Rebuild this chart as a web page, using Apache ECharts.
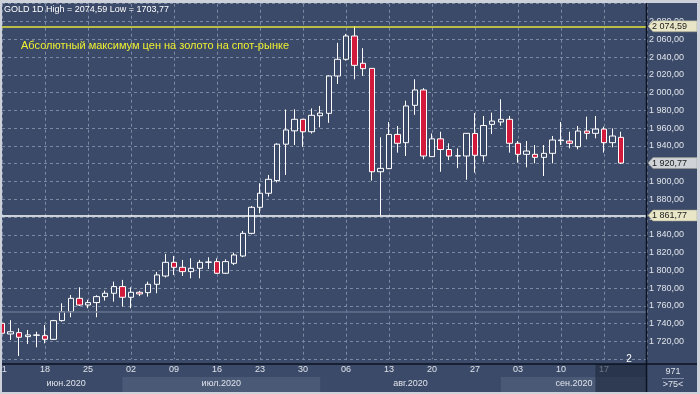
<!DOCTYPE html>
<html><head><meta charset="utf-8">
<script src="https://cdn.jsdelivr.net/npm/echarts@6/dist/echarts.min.js"></script>
<style>html,body{margin:0;padding:0;background:#cdd1d9;}#c{width:700px;height:394px;}</style>
</head><body><div id="c"></div>
<script>
// trading days (category labels), 11 Jun 2020 .. 24 Sep 2020
const days = ['11','12','15','16','17','18','19','22','23','24','25','26','29','30',
 '01','02','03','06','07','08','09','10','13','14','15','16','17','20','21','22','23','24','27','28','29','30','31',
 '03','04','05','06','07','10','11','12','13','14','17','18','19','20','21','24','25','26','27','28','31',
 '01','02','03','04','07','08','09','10','11','14','15','16','17','18','21','22','23','24'];
const opens = [1740.5,1728.5,1730,1725.5,1727,1726.6,1722.5,1743.5,1753.6,1768.6,
 1761.1,1763.8,1770.5,1774.3,1781.8,1769.8,1775.4,1775,1784.4,1793.7,
 1809.1,1803.5,1798.6,1802.4,1809.1,1809.9,1796.8,1808,1816.2,1841.7,
 1871,1886.8,1901,1942,1957,1970,1956,1974,1976.7,2018.7,
 2037.5,2063.7,2033,2027.3,1911,1914.5,1953,1943.7,1985.7,2003,
 1928,1948,1936,1928.7,1928.7,1954,1929,1964.3,1967,1970,
 1943,1930.6,1930.6,1927.2,1931.7,1946,1945.6,1939.2,1956.8,1954.2,
 1959,1943.7,1949.7];
const closes = [1729.3,1731,1724.8,1727.4,1727.4,1722.5,1743.5,1753.6,1768.6,1761.1,
 1763.8,1770.5,1774.3,1781.8,1769.8,1775.4,1773.5,1784.4,1794.9,1809.1,
 1803.5,1798.6,1802.4,1809.1,1809.5,1796.8,1809.9,1817.4,1841.7,1871,
 1886.8,1902.5,1942,1958,1970,1956,1974.5,1977,2018.7,2037.5,
 2063.7,2030.7,2027,1911,1914.8,1953,1943,1985,2003,1928.7,
 1948,1936,1928.7,1929,1954.2,1929.5,1963,1968,1970,1943,
 1930.6,1934.3,1927.2,1931.7,1946.7,1946.7,1943,1956.8,1954.2,1959,
 1943.7,1951.2,1920.77];
const lows = [1720,1721.8,1703.77,1717.2,1713.5,1718,1721.8,1742.4,1747.3,1760,
 1757.4,1747.3,1766,1764.9,1759.3,1757.4,1771,1770.5,1774.3,1792,
 1794.9,1793.7,1791.1,1791.1,1801.6,1796,1796,1806,1815,1840.6,
 1864.3,1883,1899,1907.4,1941,1939,1954,1961,1966,2009.7,
 2036,2015,2018.7,1901,1861.77,1914,1932.5,1928.7,1975,1925,
 1928,1911,1924,1915,1902,1910,1922.3,1953.5,1962.8,1932.5,
 1921.2,1916,1920.5,1906.2,1920.5,1941,1937.3,1936.2,1947.5,1948.6,
 1932.5,1938.5,1919.7];
const highs = [1746,1744,1734.9,1733,1731,1738.6,1744.3,1763,1772.4,1781,
 1767,1772,1777.3,1787.4,1789.3,1781,1777,1787.4,1798.3,1818.5,
 1816.3,1811.8,1813.6,1811.8,1814.8,1813.6,1812.5,1820,1844.4,1872.5,
 1898,1907.4,1943,1981,1981.2,1970.5,1982.3,1985,2019.5,2056,
 2066,2074.59,2050,2027.3,1949.7,1967,1962.5,1991,2015,2005,
 1954,1956,1943,1937.3,1954.5,1977,1973.7,1977.5,1992.5,1973.7,
 1945.6,1945.6,1941,1941,1951.2,1967,1956,1962.5,1973,1973.7,
 1961.7,1959.8,1956];
const maxLevel = 2074.59;   // yellow line
const minLevel = 1861.77;   // white line
const greyLevel = 1754;     // grey level line
const lastPrice = 1920.77;
const months = ['июн.2020','июл.2020','авг.2020','сен.2020'];
const monthStarts = [0.9, 14, 37, 58, 75]; // day index where each month band starts (last = end of view)
const yTicksMin = 1700, yTicksMax = 2100, yStep = 20;
const xStep = 5; // one label per week (Thursdays)

const BG = '#3b4a68';
const TXT = '#dfe3ea';
const GRIDC = '#7c89a2';
const FONT = 'Liberation Sans';

function fmt(v){
  const s = v.toFixed(2).replace('.', ',');
  const [i, d] = s.split(',');
  return (i.length > 3 ? i.slice(0, i.length-3) + ' ' + i.slice(-3) : i) + ',' + d;
}

const candles = opens.map((o, i) => [i, o, closes[i], lows[i], highs[i]]);
const lastIdx = days.length - 1;

const chart = echarts.init(document.getElementById('c'), null, {renderer: 'canvas'});
chart.setOption({
  backgroundColor: BG,
  animation: false,
  textStyle: {fontFamily: FONT, fontSize: 9},
  grid: {left: 2, right: 53, top: 3.74, bottom: 34.7, containLabel: false, outerBoundsMode: 'none'},
  xAxis: {
    type: 'value', min: 0, max: lastIdx, interval: xStep,
    axisLine: {show: false}, axisTick: {show: false},
    axisLabel: {color: TXT, fontSize: 9, margin: 6, fontFamily: FONT, showMaxLabel: false,
      formatter: (v) => (v < lastIdx ? days[v] : '')},
    splitLine: {show: true, lineStyle: {color: GRIDC, type: [3, 3], width: 1}}
  },
  yAxis: {
    type: 'value', position: 'right', min: yTicksMin, max: yTicksMax, interval: yStep,
    axisLine: {show: false}, axisTick: {show: false},
    axisLabel: {color: TXT, fontSize: 9, margin: 2, fontFamily: FONT,
      formatter: (v) => (v === yTicksMin || v === yTicksMax) ? '' : fmt(v)},
    splitLine: {show: true, lineStyle: {color: GRIDC, type: [3, 3], width: 1}}
  },
  series: [{
    type: 'candlestick', data: candles, barWidth: 6, clip: true,
    itemStyle: {color: BG, color0: '#d41a3c', borderColor: '#ffffff', borderColor0: '#ffffff', borderWidth: 1},
    markLine: {
      silent: true, symbol: 'none', label: {show: false}, animation: false,
      data: [
        {yAxis: greyLevel, lineStyle: {color: '#64728c', width: 1.5, type: 'solid'}},
        {yAxis: minLevel, lineStyle: {color: '#ffffff', width: 1.5, type: 'solid'}},
        {yAxis: maxLevel, lineStyle: {color: '#e6e63c', width: 1.5, type: 'solid'}}
      ]
    }
  }]
});

const P = (i, v) => chart.convertToPixel({gridIndex: 0}, [i, v]);
const W = 700, H = 394;
const xR = P(lastIdx, yTicksMin)[0];
const yDiv = 364;
const g = [];

// month bands and labels
for (let m = 0; m < months.length; m++) {
  const x0 = Math.max(3, P(monthStarts[m], yTicksMin)[0]);
  const x1 = Math.min(xR, P(monthStarts[m + 1], yTicksMin)[0]);
  if (m % 2 === 1) g.push({type: 'rect', shape: {x: x0, y: 377, width: x1 - x0, height: 15}, style: {fill: '#4a5976'}, z: 1});
  g.push({type: 'text', x: (x0 + x1) / 2, y: 384, style: {text: months[m], fill: TXT, font: '9px ' + FONT, align: 'center', verticalAlign: 'middle'}, z: 5});
}
// dark current-period box
const xBox = P(69, yTicksMin)[0];
g.push({type: 'rect', shape: {x: xBox, y: yDiv, width: xR - xBox - 1, height: H - yDiv}, style: {fill: 'rgba(30,40,60,0.6)'}, z: 20});
// dividers
g.push({type: 'line', shape: {x1: 2, y1: yDiv, x2: W, y2: yDiv}, style: {stroke: '#0d1220', lineWidth: 1.5}, z: 30});
g.push({type: 'line', shape: {x1: xR - 0.5, y1: 3, x2: xR - 0.5, y2: H}, style: {stroke: '#0d1220', lineWidth: 1.5}, z: 30});
// right panel bottom texts
g.push({type: 'text', x: 673, y: 372, style: {text: '971', fill: TXT, font: '9px ' + FONT, align: 'center', verticalAlign: 'middle'}, z: 31});
g.push({type: 'line', shape: {x1: 662, y1: 378.5, x2: 684, y2: 378.5}, style: {stroke: '#7c89a2', lineWidth: 1}, z: 31});
g.push({type: 'text', x: 673, y: 385, style: {text: '>75<', fill: TXT, font: '9px ' + FONT, align: 'center', verticalAlign: 'middle'}, z: 31});
g.push({type: 'text', x: 629, y: 359, style: {text: '2', fill: '#ffffff', font: '10px ' + FONT, align: 'center', verticalAlign: 'middle'}, z: 31});

// price tags
function tag(v, fill) {
  const y = P(0, v)[1];
  const xa = xR + 1;
  g.push({type: 'polygon', shape: {points: [[xa, y], [xa + 5, y - 5.5], [697, y - 5.5], [697, y + 5.5], [xa + 5, y + 5.5]]},
    style: {fill: fill, stroke: '#9a9a88', lineWidth: 0.5}, z: 40});
  g.push({type: 'text', x: xa + 4, y: y, style: {text: fmt(v), fill: '#1a1a1a', font: '9px ' + FONT, verticalAlign: 'middle'}, z: 41});
}
tag(maxLevel, '#e8e6c6');
tag(lastPrice, '#cfd2d6');
tag(minLevel, '#e8e6c6');

// header texts
const hi = Math.max(...highs), lo = Math.min(...lows);
g.push({type: 'text', x: 4, y: 10, style: {text: 'GOLD 1D High = ' + hi.toFixed(2).replace('.', ',') + ' Low = ' + lo.toFixed(2).replace('.', ','), fill: '#ffffff', font: '9px ' + FONT, verticalAlign: 'middle'}, z: 50});
g.push({type: 'text', x: 21, y: 46, style: {text: 'Абсолютный максимум цен на золото на спот-рынке', fill: '#f0f030', font: '11px ' + FONT, verticalAlign: 'middle'}, z: 50});

// outer frame
const FR = '#cdd1d9';
g.push({type: 'rect', shape: {x: 0, y: 0, width: W, height: 3}, style: {fill: FR}, z: 60});
g.push({type: 'rect', shape: {x: 0, y: 0, width: 2, height: H}, style: {fill: FR}, z: 60});
g.push({type: 'rect', shape: {x: W - 3, y: 0, width: 3, height: H}, style: {fill: FR}, z: 60});
g.push({type: 'rect', shape: {x: 0, y: H - 2, width: W, height: 2}, style: {fill: FR}, z: 60});

chart.setOption({graphic: g});
</script></body></html>
